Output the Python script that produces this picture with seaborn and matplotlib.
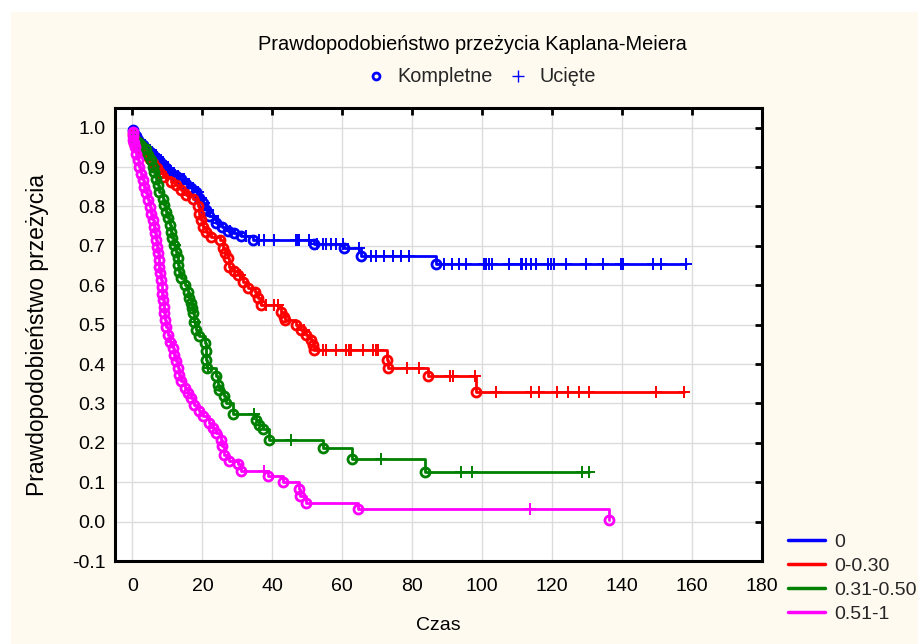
import numpy as np
import pandas as pd
import matplotlib
matplotlib.use("Agg")
import matplotlib.pyplot as plt
import seaborn as sns
from matplotlib.lines import Line2D
from matplotlib.patches import Rectangle

# ---------------- data ----------------
groups = ["0", "0-0.30", "0.31-0.50", "0.51-1"]
colors = ["#0000FF", "#FF0000", "#008000", "#FF00FF"]

blue_event_t = [0.1, 0.5, 1.0, 1.5, 2.2, 3.0, 4.0, 5.0, 6.0, 7.0, 8.0, 9.0, 10.0, 11.0, 12.5,
                13.9, 15.3, 16.7, 18.2, 19.1, 20.1, 21.0, 22.0, 23.9, 25.5, 27.2, 29.0, 31.1,
                34.4, 52.0, 60.6, 65.3, 86.8]
blue_event_s = [0.993, 0.985, 0.978, 0.970, 0.962, 0.955, 0.947, 0.938, 0.930, 0.921, 0.912,
                0.902, 0.893, 0.884, 0.878, 0.871, 0.858, 0.846, 0.837, 0.822, 0.808, 0.792,
                0.775, 0.758, 0.747, 0.737, 0.732, 0.726, 0.715, 0.706, 0.694, 0.674, 0.653]
blue_censored_t = [2.5, 3.5, 4.5, 5.5, 6.3, 6.8, 7.3, 7.7, 8.3, 8.8, 9.5, 10.2, 10.6, 11.5, 12.0,
                   13.0, 14.2, 14.8, 16.0, 17.3, 18.6, 19.6, 20.5, 21.5, 23.0, 24.5, 28.0, 32.5,
                   36.3, 37.7, 40.6, 46.8, 47.2, 47.7, 50.6, 52.9, 54.4, 55.3, 56.8, 58.2, 60.1,
                   64.9, 68.2, 69.6, 72.0, 74.4, 76.8, 79.1, 89.1, 91.5, 93.4, 95.3, 100.6,
                   101.0, 102.0, 102.9, 107.7, 111.1, 111.5, 112.5, 113.9, 115.3, 118.7, 119.6,
                   120.6, 123.9, 129.6, 134.4, 139.6, 140.3, 148.7, 151.1, 158.2]

red_event_t = [0.1, 0.3, 0.5, 1.0, 2.0, 3.0, 4.0, 5.0, 6.0, 7.0, 8.0, 8.7, 11.0, 12.5, 13.9,
               15.3, 17.2, 18.7, 19.1, 19.6, 20.1, 21.0, 22.5, 24.9, 25.8, 26.5, 27.2, 27.7,
               29.0, 30.1, 31.5, 32.9, 34.9, 35.8, 36.8, 42.5, 43.4, 43.7, 46.8, 48.2, 49.6,
               51.1, 51.5, 52.0, 72.9, 73.1, 84.4, 98.3]
red_event_s = [0.985, 0.972, 0.962, 0.955, 0.948, 0.940, 0.930, 0.920, 0.910, 0.897, 0.886,
               0.875, 0.862, 0.854, 0.841, 0.830, 0.820, 0.800, 0.782, 0.765, 0.748, 0.736,
               0.723, 0.715, 0.694, 0.681, 0.668, 0.647, 0.636, 0.626, 0.609, 0.592, 0.584,
               0.567, 0.550, 0.533, 0.520, 0.512, 0.500, 0.487, 0.474, 0.462, 0.449, 0.436,
               0.411, 0.390, 0.370, 0.330]
red_censored_t = [9.5, 16.0, 30.6, 38.2, 40.6, 41.5, 49.1, 54.4, 55.3, 58.2, 61.1, 62.0, 62.5,
                  65.8, 68.7, 69.6, 70.1, 78.6, 81.9, 90.8, 91.7, 97.9, 103.9, 113.9, 116.1,
                  121.5, 124.6, 127.7, 130.6, 149.6, 157.6]

green_event_t = [0.3, 1.5, 2.5, 3.9, 4.4, 5.3, 5.8, 6.2, 6.8, 7.2, 7.7, 8.7, 9.0, 9.6, 10.1,
                 10.6, 10.9, 11.2, 12.0, 12.4, 12.9, 13.1, 13.4, 13.9, 14.9, 15.8, 16.2, 16.7,
                 17.0, 17.3, 17.7, 18.2, 19.1, 20.6, 21.0, 21.1, 21.2, 23.9, 24.4, 24.8, 26.3,
                 26.8, 28.7, 35.3, 36.3, 37.2, 39.1, 54.4, 62.9, 83.7]
green_event_s = [0.975, 0.964, 0.955, 0.947, 0.930, 0.917, 0.900, 0.888, 0.871, 0.854, 0.837,
                 0.820, 0.803, 0.786, 0.770, 0.753, 0.736, 0.719, 0.702, 0.685, 0.668, 0.651,
                 0.634, 0.618, 0.601, 0.584, 0.567, 0.554, 0.542, 0.529, 0.508, 0.487, 0.470,
                 0.453, 0.432, 0.411, 0.390, 0.369, 0.348, 0.335, 0.318, 0.301, 0.273, 0.259,
                 0.246, 0.234, 0.208, 0.187, 0.159, 0.126]
green_censored_t = [12.1, 18.0, 21.5, 34.8, 45.3, 71.0, 93.9, 97.1, 128.4, 130.4]

magenta_event_t = [0.05, 0.1, 0.2, 0.3, 0.6, 1.0, 1.5, 2.0, 2.5, 2.9, 3.4, 3.9, 4.4, 4.9, 5.3,
                   5.8, 6.1, 6.4, 6.8, 7.0, 7.3, 7.5, 7.7, 7.9, 8.1, 8.3, 8.5, 8.7, 8.9, 9.1,
                   9.3, 9.6, 10.1, 10.6, 11.5, 11.9, 12.5, 12.9, 13.4, 13.9, 14.9, 15.8, 16.8,
                   17.7, 19.1, 20.1, 22.0, 22.9, 23.9, 25.3, 25.6, 26.3, 27.7, 30.1, 31.1, 38.7,
                   42.9, 47.7, 48.0, 49.6, 64.4, 136.3]
magenta_event_s = [0.99, 0.98, 0.97, 0.96, 0.951, 0.934, 0.917, 0.900, 0.883, 0.867, 0.850,
                   0.833, 0.816, 0.799, 0.782, 0.765, 0.748, 0.732, 0.715, 0.698, 0.681, 0.664,
                   0.647, 0.630, 0.613, 0.596, 0.579, 0.562, 0.545, 0.529, 0.512, 0.495, 0.474,
                   0.457, 0.440, 0.424, 0.407, 0.390, 0.373, 0.356, 0.339, 0.327, 0.314, 0.297,
                   0.280, 0.267, 0.251, 0.238, 0.225, 0.208, 0.191, 0.170, 0.153, 0.145, 0.128,
                   0.115, 0.100, 0.082, 0.065, 0.048, 0.031, 0.005]
magenta_censored_t = [11.0, 37.7, 113.7]

x_ticks = [0, 20, 40, 60, 80, 100, 120, 140, 160, 180]
y_ticks = [-0.1, 0.0, 0.1, 0.2, 0.3, 0.4, 0.5, 0.6, 0.7, 0.8, 0.9, 1.0]

title_text = "Prawdopodobieństwo przeżycia Kaplana-Meiera"
marker_labels = ["Kompletne", "Ucięte"]
x_label = "Czas"
y_label = "Prawdopodobieństwo przeżycia"

series = [
    (blue_event_t, blue_event_s, blue_censored_t),
    (red_event_t, red_event_s, red_censored_t),
    (green_event_t, green_event_s, green_censored_t),
    (magenta_event_t, magenta_event_s, magenta_censored_t),
]

# ---------------- style ----------------
sns.set_theme(style="white")
plt.rcParams["font.family"] = ["Liberation Sans", "DejaVu Sans"]
plt.rcParams["axes.unicode_minus"] = False
FS = 14

W, H = 918, 644
fig = plt.figure(figsize=(W / 100, H / 100), dpi=100, facecolor="white")
fig.patches.append(Rectangle((11 / W, 0), 1, (H - 12) / H, transform=fig.transFigure,
                             facecolor="#FFFAF0", edgecolor="none", zorder=-10))
ax = fig.add_axes([115 / W, 1 - 561 / H, (762 - 115) / W, (561 - 108) / H])
ax.set_facecolor("white")


def surv_at(t, ev_t, ev_s):
    idx = np.searchsorted(ev_t, t, side="right") - 1
    return 1.0 if idx < 0 else ev_s[idx]


for name, col, (ev_t, ev_s, ce_t) in zip(groups, colors, series):
    ev_t = np.asarray(ev_t)
    ev_s = np.asarray(ev_s)
    ce_s = [surv_at(t, ev_t, ev_s) for t in ce_t]
    pts = [(0.0, 1.0)] + list(zip(ev_t, ev_s)) + list(zip(ce_t, ce_s))
    pts = sorted(pts, key=lambda p: p[0])
    df = pd.DataFrame(pts, columns=["t", "s"])
    sns.lineplot(data=df, x="t", y="s", color=col, estimator=None, sort=False,
                 drawstyle="steps-post", linewidth=2.0, ax=ax, legend=False)
    ax.plot(ev_t, ev_s, linestyle="none", marker="o", markersize=6.5, markerfacecolor="none",
            markeredgecolor=col, markeredgewidth=2.0)
    ax.plot(ce_t, ce_s, linestyle="none", marker="+", markersize=8.5,
            markeredgecolor=col, markeredgewidth=1.4)

ax.set_xlim(-5, 180)
ax.set_ylim(-0.1, 1.05)
ax.set_xticks(x_ticks)
ax.set_xticklabels([str(v) for v in x_ticks])
ax.set_yticks(y_ticks)
ax.set_yticklabels([f"{v:.1f}" for v in y_ticks])
ax.grid(True, color="#DCDCDC", linewidth=1.0)
ax.set_axisbelow(True)
for sp in ax.spines.values():
    sp.set_color("black")
    sp.set_linewidth(2.2)
ax.tick_params(axis="both", direction="in", length=5, width=2, top=True, right=True,
               labelsize=FS, colors="black")
ax.tick_params(axis="x", pad=12)
ax.tick_params(axis="y", pad=7)

ax.set_xlabel(x_label, fontsize=FS, color="black")
ax.set_ylabel(y_label, fontsize=16.5, color="black")
ax.xaxis.set_label_coords(0.5, (561 - 625) / 453)
ax.xaxis.label.set_va("center")
ax.yaxis.set_label_coords((38 - 115) / 647, 0.5)
ax.yaxis.label.set_va("center")

fig.text(472 / W, 1 - 44 / H, title_text, ha="center", va="center", fontsize=14.4, color="black")

top_handles = [
    Line2D([], [], linestyle="none", marker="o", markersize=5, markerfacecolor="none",
           markeredgecolor="#0000FF", markeredgewidth=2),
    Line2D([], [], linestyle="none", marker="+", markersize=8, markeredgecolor="#0000FF",
           markeredgewidth=1),
]
fig.legend(handles=top_handles, labels=marker_labels, ncol=2, loc="center",
           bbox_to_anchor=(481 / W, 1 - 77 / H), frameon=False, fontsize=14.3,
           handlelength=1.0, handletextpad=0.55, columnspacing=0.8)

grp_handles = [Line2D([], [], color=c, linewidth=2.5) for c in colors]
fig.legend(handles=grp_handles, labels=groups, loc="upper left",
           bbox_to_anchor=(788 / W, 1 - 533 / H), frameon=False, fontsize=FS,
           handlelength=1.9, handletextpad=0.5, labelspacing=0.34,
           borderaxespad=0, borderpad=0)

fig.savefig("out.png", dpi=100, facecolor="white")
